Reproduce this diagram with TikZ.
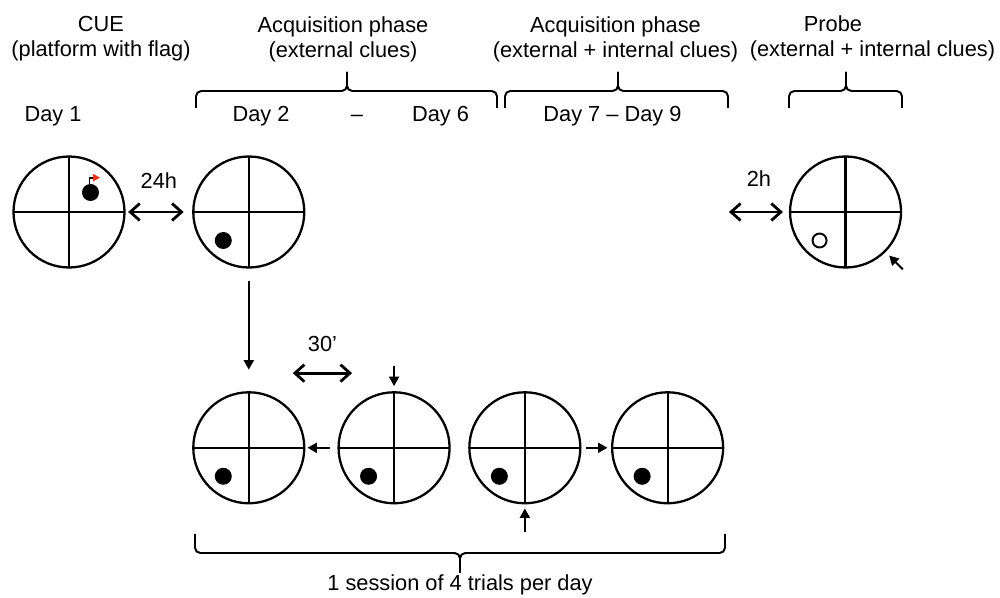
\documentclass[tikz,border=0pt]{standalone}
\usepackage{fontspec}
\setmainfont{Liberation Sans}
\usepackage{tikz}
\usetikzlibrary{positioning,calc,arrows.meta}
\definecolor{flagred}{RGB}{232,52,28}

\begin{document}
\begin{tikzpicture}[
    font=\fontsize{12.4}{14.2}\selectfont,
    pool/.style={circle, draw, line width=1.3pt, minimum size=2.22cm, inner sep=0pt,
        path picture={\draw[line width=1.3pt]
            (path picture bounding box.north) -- (path picture bounding box.south)
            (path picture bounding box.west) -- (path picture bounding box.east);}},
    plat/.style={circle, fill, inner sep=0pt, minimum size=0.34cm},
    lbl/.style={inner sep=0pt, align=center},
    dbl/.style={{Straight Barb[length=1.9mm,width=3.4mm]}-{Straight Barb[length=1.9mm,width=3.4mm]}, line width=1.6pt},
    arr/.style={-{Triangle[length=1.9mm,width=2mm]}, line width=1.1pt},
    brc/.style={line width=1.1pt, rounded corners=3pt}
]
    \useasboundingbox (0,0) rectangle (20,-11.96);

    % headings
    \node[lbl, anchor=north] (cue) at (2.02,-0.32) {CUE\\(platform with flag)};
    \node[lbl, anchor=north] (acqext) at (6.86,-0.32) {Acquisition phase\\(external clues)};
    \node[lbl, anchor=north] (acqint) at (12.31,-0.32) {Acquisition phase\\(external + internal clues)};
    \node[lbl, anchor=base] (prb) at (16.66,-0.634) {Probe};
    \node[lbl, anchor=base] (prbclues) at (17.45,-1.134) {(external + internal clues)};

    \node[lbl, anchor=base] (d1) at (1.06,-2.43) {Day 1};
    \node[lbl, anchor=base] (d2) at (5.22,-2.43) {Day 2};
    \node[lbl, anchor=base] (dash) at (7.14,-2.43) {--};
    \node[lbl, anchor=base] (d6) at (8.81,-2.43) {Day 6};
    \node[lbl, anchor=base] (d79) at (12.25,-2.43) {Day 7 -- Day 9};

    % braces
    \foreach \xl/\xm/\xr in {3.92/6.94/9.94, 10.1/12.36/14.56, 15.78/16.92/18.04} {
        \draw[brc] (\xl,-2.16) -- (\xl,-1.82) -- (\xm,-1.82) -- (\xm,-1.44);
        \draw[brc] (\xr,-2.16) -- (\xr,-1.82) -- (\xm,-1.82) -- (\xm,-1.44);
    }
    \draw[brc] (3.9,-10.68) -- (3.9,-11.06) -- (9.2,-11.06) -- (9.2,-11.46);
    \draw[brc] (14.5,-10.68) -- (14.5,-11.06) -- (9.2,-11.06) -- (9.2,-11.46);
    \node[lbl, anchor=base] (sess) at (9.2,-11.82) {1 session of 4 trials per day};

    % pools
    \node[pool] (day1) at (1.38,-4.24) {};
    \node[pool, right=1.33cm of day1] (acq) {};
    \node[pool, right=9.67cm of acq] (probe) {};
    \node[pool, below=2.45cm of acq] (t1) {};
    \node[pool, right=0.64cm of t1] (t2) {};
    \node[pool, right=0.35cm of t2] (t3) {};
    \node[pool, right=0.59cm of t3] (t4) {};

    % platforms
    \node[plat] (pf) at ($(day1)+(0.43,0.39)$) {};
    \draw[line width=0.7pt] ([shift={(-0.026,0.17)}]pf.center) |- ([shift={(0.05,0.29)}]pf.center);
    \fill[flagred] ([shift={(0.046,0.374)}]pf.center) -- ([shift={(0.194,0.296)}]pf.center)
        -- ([shift={(0.046,0.22)}]pf.center) -- cycle;
    \foreach \p in {acq,t1,t2,t3,t4}
        \node[plat] (pl-\p) at ($(\p)+(-0.51,-0.57)$) {};
    \node[circle, draw, line width=1.1pt, inner sep=0pt, minimum size=0.28cm] (pl-probe) at ($(probe)+(-0.52,-0.57)$) {};

    % arrows
    \draw[dbl, shorten <=0.05cm, shorten >=0.17cm] (day1) -- node[lbl, above=0.44cm] (h24) {24h} (acq);
    \coordinate[left=1.2cm of probe.west] (w2h);
    \draw[dbl, shorten >=0.12cm] (w2h) -- node[lbl, above=0.48cm] (h2) {2h} (probe);
    \draw[arr, shorten <=0.25cm, shorten >=0.43cm] (acq) -- (t1);
    \coordinate (a30) at ($(t1.north)+(0.88,0.36)$);
    \coordinate (b30) at ($(t2.north)+(-0.84,0.36)$);
    \draw[dbl] (a30) -- node[lbl, above=0.4cm] (m30) {30'} (b30);
    \coordinate (in2) at ($(t2.north)+(0,0.5)$);
    \draw[arr, shorten >=0.1cm] (in2) -- (t2);
    \draw[arr, shorten <=0.14cm, shorten >=0.04cm] (t2) -- (t1);
    \draw[arr, shorten <=0.09cm, shorten >=0.07cm] (t3) -- (t4);
    \coordinate (in3) at ($(t3.south)+(0,-0.56)$);
    \draw[arr, shorten >=0.08cm] (in3) -- (t3);
    \coordinate (in4) at ($(probe.center)+(-45:1.62)$);
    \draw[arr, shorten >=0.1cm] (in4) -- (probe);
\end{tikzpicture}
\end{document}
